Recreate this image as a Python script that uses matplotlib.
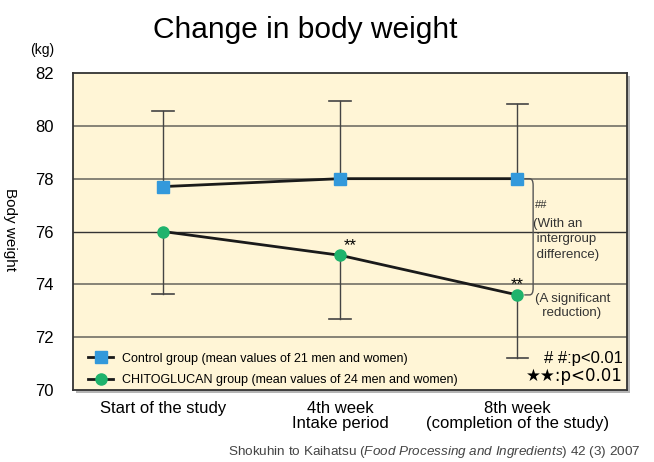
import matplotlib
matplotlib.use("Agg")
import matplotlib.pyplot as plt
from matplotlib.patches import PathPatch
from matplotlib.path import Path
from matplotlib.lines import Line2D

plt.rcParams['font.family'] = ['Liberation Sans', 'DejaVu Sans']
plt.rcParams['mathtext.fontset'] = 'custom'
plt.rcParams['mathtext.it'] = 'Liberation Sans:italic'
plt.rcParams['mathtext.rm'] = 'Liberation Sans'

categories = ["Start of the study", "4th week\nIntake period", "8th week\n(completion of the study)"]
control = [77.7, 78.0, 78.0]
control_upper = [80.57, 80.95, 80.83]
chito = [76.0, 75.1, 73.6]
chito_lower = [73.65, 72.7, 71.2]
yticks = [70, 72, 74, 76, 78, 80, 82]

W, H = 654, 462
fig = plt.figure(figsize=(W / 100, H / 100), dpi=100)
ax_l, ax_r, ax_t, ax_b = 73, 627, 73, 390

# shadow axes
sh = fig.add_axes([(ax_l + 3) / W, 1 - (ax_b + 3) / H, (ax_r - ax_l) / W, (ax_b - ax_t) / H])
sh.set_facecolor('#b5b5b5')
sh.set_xticks([]); sh.set_yticks([])
for s in sh.spines.values():
    s.set_visible(False)
sh.set_zorder(0)

ax = fig.add_axes([ax_l / W, 1 - ax_b / H, (ax_r - ax_l) / W, (ax_b - ax_t) / H])
ax.set_zorder(1)
ax.set_facecolor('#fff5d6')
ax.set_xlim(-0.508, 2.62)
ax.set_ylim(70, 82)
for s in ax.spines.values():
    s.set_color('#333333')
    s.set_linewidth(1.3)

for g in [72, 74, 76, 78, 80]:
    ax.axhline(g, color='#7d7a6e' if g != 76 else '#333333', lw=1.3 if g != 76 else 1.0, zorder=1)

x = list(range(len(categories)))
capw = 0.06
for xi, m, u in zip(x, control, control_upper):
    ax.plot([xi, xi], [m, u], color='#444444', lw=1.0, zorder=2)
    ax.plot([xi - capw, xi + capw], [u, u], color='#444444', lw=1.2, zorder=2)
for xi, m, l in zip(x, chito, chito_lower):
    ax.plot([xi, xi], [m, l], color='#444444', lw=1.0, zorder=2)
    ax.plot([xi - capw, xi + capw], [l, l], color='#444444', lw=1.2, zorder=2)

ax.plot(x, control, color='#1a1a1a', lw=2, zorder=3)
ax.plot(x, control, ls='none', marker='s', ms=9, color='#3399db', zorder=4)
ax.plot(x, chito, color='#1a1a1a', lw=2, zorder=3)
ax.plot(x, chito, ls='none', marker='o', ms=8, color='#1fb36c', zorder=4)

ax.text(x[1] + 0.02, chito[1] + 0.08, '**', fontsize=12, ha='left', va='bottom', zorder=5)
ax.text(x[2], chito[2] + 0.12, '**', fontsize=12, ha='center', va='bottom', zorder=5)

# bracket
bx0 = 2.04
bx1 = 2.09
r = 0.25
verts = [(bx0, control[2]), (bx1 - 0.02, control[2]), (bx1, control[2]), (bx1, control[2] - r),
         (bx1, chito[2] + r), (bx1, chito[2]), (bx1 - 0.02, chito[2]), (bx0, chito[2])]
codes = [Path.MOVETO, Path.LINETO, Path.CURVE3, Path.CURVE3, Path.LINETO, Path.CURVE3, Path.CURVE3, Path.LINETO]
ax.add_patch(PathPatch(Path(verts, codes), fill=False, edgecolor='#555555', lw=1.0, zorder=3))

ax.text(2.1, 77.0, '##', fontsize=8, color='#333333', ha='left', va='center')
ax.text(2.09, 75.7, '(With an\n intergroup\n difference)', fontsize=9.5, color='#333333',
        ha='left', va='center', linespacing=1.35)
ax.text(2.1, 73.18, '(A significant\n  reduction)', fontsize=9.5, color='#333333',
        ha='left', va='center', linespacing=1.3)

# legend
h1 = Line2D([], [], color='#1a1a1a', lw=2, marker='s', ms=9, mfc='#3399db', mec='#3399db')
h2 = Line2D([], [], color='#1a1a1a', lw=2, marker='o', ms=8, mfc='#1fb36c', mec='#1fb36c')
ax.legend([h1, h2], ['Control group (mean values of 21 men and women)',
                     'CHITOGLUCAN group (mean values of 24 men and women)'],
          loc='lower left', bbox_to_anchor=(0.0, -0.035), frameon=False, fontsize=9,
          handlelength=2.0, handletextpad=0.7, labelspacing=0.75, borderaxespad=0.8)

ax.text(0.993, 0.098, '# #:p<0.01', transform=ax.transAxes, ha='right', va='center', fontsize=12)
ax.text(0.993, 0.045, '★★:p<0.01', transform=ax.transAxes, ha='right', va='center', fontsize=12,
        family=['DejaVu Sans'])

ax.set_yticks(yticks)
ax.set_yticklabels([str(t) for t in yticks], fontsize=12)
ax.set_xticks(x)
ax.set_xticklabels(categories, fontsize=12, linespacing=1.0, va='top')
ax.tick_params(axis='both', length=0, pad=8)
ax.tick_params(axis='y', pad=14)

fig.text(305 / W, 1 - 30 / H, 'Change in body weight', fontsize=21.5, ha='center', va='center')
fig.text(42 / W, 1 - 50 / H, '(kg)', fontsize=10, ha='center', va='center')
fig.text(10 / W, 1 - 230 / H, 'Body weight', fontsize=11, rotation=270, ha='center', va='center')
fig.text(228 / W, 1 - 452 / H,
         r'Shokuhin to Kaihatsu ($\it{Food\ Processing\ and\ Ingredients}$) 42 (3) 2007',
         fontsize=9.7, ha='left', va='center', color='#444444')

fig.savefig('out.png', dpi=100)
